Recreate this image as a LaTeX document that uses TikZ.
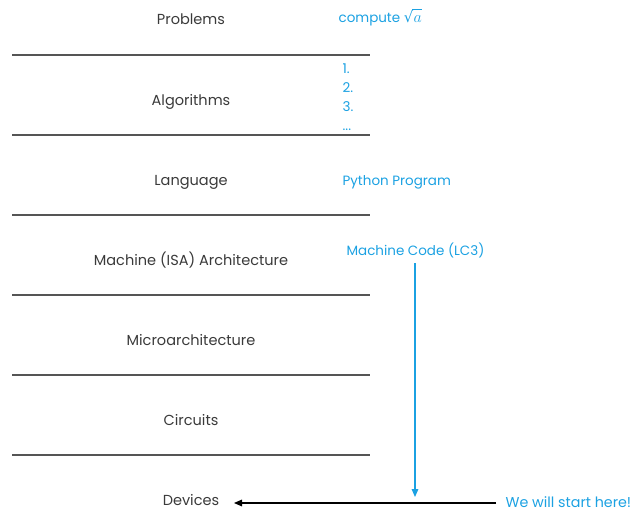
\documentclass[tikz,border=0pt]{standalone}
\usepackage{fontspec}
\setmainfont{Poppins}
\newfontfamily\dvs{DejaVu Sans}
\usetikzlibrary{arrows.meta}
\definecolor{ink}{HTML}{3A3A3A}
\definecolor{rule}{HTML}{555555}
\definecolor{cblue}{HTML}{1BA1E2}
\newcommand{\myroot}{{\fontsize{11}{13}\selectfont\dvs √}\kern-0.6pt\rlap{\raisebox{9.1pt}{\rule{7pt}{0.5pt}}}\kern1pt{\fontsize{12}{14}\selectfont$a$}}
\begin{document}
\begin{tikzpicture}[x=0.75pt,y=-0.75pt,
  layer/.style={text=ink,font=\fontsize{10.9}{13}\selectfont,anchor=base},
  note/.style={text=cblue,font=\fontsize{10.1}{12}\selectfont,anchor=base west,inner sep=1pt},
  sep/.style={draw=rule,line width=1.4pt}]
\useasboundingbox (0,0) rectangle (633,514);
\foreach \y/\n in {55/a,135/b,215/c,295/d,375/e,455/f}{
  \coordinate (l\n) at (12,\y); \coordinate (r\n) at (370,\y);
  \draw[sep] (l\n) -- (r\n);}
\node[layer] (p1) at (191,25) {Problems};
\node[layer] (p2) at (191,105) {Algorithms};
\node[layer] (p3) at (191,185) {Language};
\node[layer] (p4) at (191,265) {Machine (ISA) Architecture};
\node[layer] (p5) at (191,345) {Microarchitecture};
\node[layer] (p6) at (191,425) {Circuits};
\node[layer] (p7) at (191,505) {Devices};
\node[note] (n1) at (337,22) {compute \myroot};
\node[note] (i1) at (341,73) {1.};
\node[note] (i2) at (341,92) {2.};
\node[note] (i3) at (341,111) {3.};
\node[note] (i4) at (341,130) {...};
\node[note] (n3) at (341,185) {Python Program};
\node[note] (n4) at (345,255) {Machine Code (LC3)};
\node[note,font=\fontsize{10.7}{13}\selectfont] (n7) at (504,507) {We will start here!};
\coordinate (s) at (496,503);
\coordinate (e) at (234,503);
\draw[black,line width=0.8pt,-{Triangle[length=6pt,width=5pt]}] (s) -- (e);
\coordinate (vs) at (415,263);
\coordinate (ve) at (415,497);
\draw[cblue,line width=0.8pt,-{Triangle[length=6pt,width=5pt]}] (vs) -- (ve);
\end{tikzpicture}
\end{document}
